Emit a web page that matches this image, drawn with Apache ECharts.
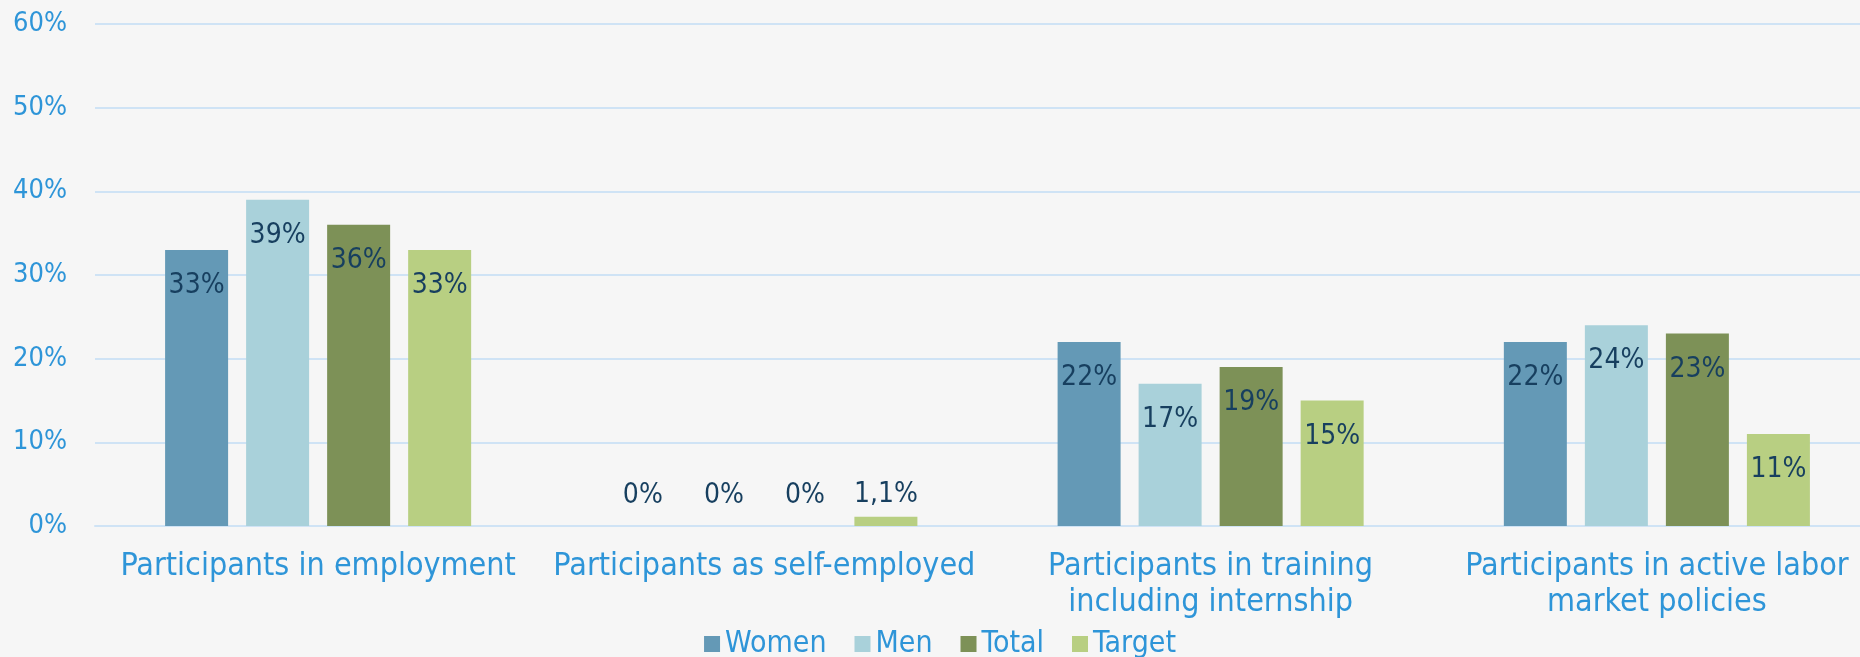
<!DOCTYPE html>
<html lang="en">
<head>
<meta charset="utf-8">
<script src="https://cdn.jsdelivr.net/npm/echarts@6/dist/echarts.min.js"></script>
<style>
    html, body { margin: 0; padding: 0; background: #f6f6f6; overflow: hidden; }
    /* the plot area runs a bit past the right edge in the original, so the canvas does too */
    #chart { width: 1880px; height: 657px; }
</style>
</head>
<body>
<div id="chart"></div>
<script>
// values in percent
const categories = [
    'Participants in employment',
    'Participants as self-employed',
    'Participants in training\nincluding internship',
    'Participants in active labor\nmarket policies'
]
const women  = [33, 0, 22, 22]
const men    = [39, 0, 17, 24]
const total  = [36, 0, 19, 23]
const target = [33, 1.1, 15, 11]

const seriesNames  = ['Women', 'Men', 'Total', 'Target']
const seriesColors = ['#6499b6', '#a9d1da', '#7d9157', '#b8cf82']
const yMax = 60, yStep = 10

const textFont = '"DejaVu Sans Condensed", "DejaVu Sans", sans-serif'

let pct = v => String(v).replace('.', ',') + '%'

// tiny bars get their label above the bar, like Excel does
let toData = arr => arr.map(v => {
    if (v < 3) {
        return { value: v, label: { position: 'top', distance: v === 0 ? 16 : 8 } }
    }
    return v
})

let chart = echarts.init(document.querySelector('#chart'))
chart.setOption({
    backgroundColor: '#f6f6f6',
    animation: false,
    grid: { left: 95, top: 24, right: 0, height: 502 },
    legend: {
        data: seriesNames,
        left: 'center',
        top: 624,
        icon: 'rect',
        itemWidth: 16,
        itemHeight: 16,
        itemGap: 28,
        textStyle: { color: '#2e95d8', fontSize: 30, fontFamily: textFont }
    },
    xAxis: {
        type: 'category',
        data: categories,
        axisTick: { show: false },
        axisLine: { lineStyle: { color: '#cfe3f5', width: 2 } },
        axisLabel: {
            interval: 0,
            margin: 23,
            color: '#2e95d8',
            fontSize: 32,
            lineHeight: 36,
            fontFamily: textFont
        }
    },
    yAxis: {
        type: 'value',
        min: 0,
        max: yMax,
        interval: yStep,
        axisLine: { show: false },
        axisTick: { show: false },
        splitLine: { lineStyle: { color: '#cfe3f5', width: 2 } },
        axisLabel: {
            formatter: '{value}%',
            margin: 28,
            color: '#2e95d8',
            fontSize: 27,
            fontFamily: textFont
        }
    },
    series: [women, men, total, target].map((arr, i) => ({
        name: seriesNames[i],
        type: 'bar',
        data: toData(arr),
        barWidth: 63,
        barGap: '28.6%',
        itemStyle: { color: seriesColors[i] },
        label: {
            show: true,
            position: 'insideTop',
            distance: 22,
            color: '#173f5f',
            fontSize: 28,
            fontFamily: textFont,
            formatter: p => pct(p.value)
        }
    }))
})
</script>
</body>
</html>
